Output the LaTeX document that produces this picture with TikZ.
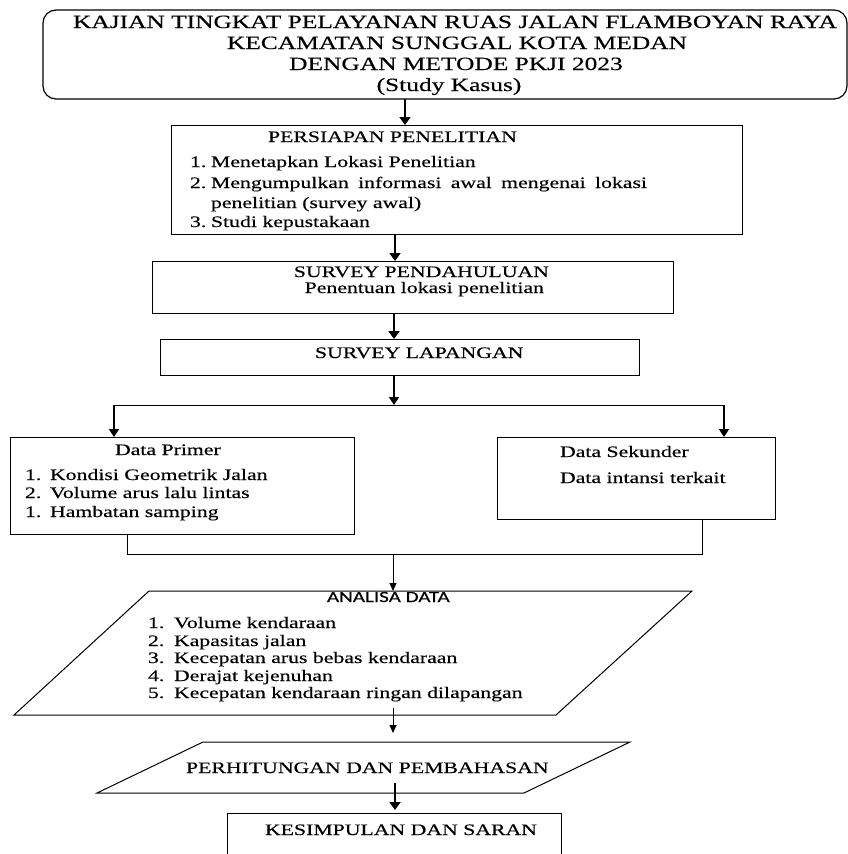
\documentclass[tikz,border=0pt]{standalone}
\usepackage{fontspec}
\setmainfont{Liberation Serif}[FakeStretch=1.36,FakeBold=0.3]
\newfontfamily\sansfnt{Carlito}[FakeStretch=1.36,FakeBold=0.3]
\usetikzlibrary{arrows.meta,calc}
\newcommand\myBody{\fontsize{16}{17}\selectfont}
\newcommand\myTitle{\fontsize{18.7}{21}\selectfont}
\begin{document}
\begin{tikzpicture}[x=1pt,y=-1pt,
  box/.style={draw=black, line width=1pt, inner sep=0pt, outer sep=0pt},
  frame/.style={inner sep=0pt, outer sep=0pt},
  edge/.style={draw=black, line width=1pt},
  lbl/.style={inner sep=0pt, outer sep=0pt, anchor=base west, font=\myBody},
  ttl/.style={inner sep=0pt, outer sep=0pt, anchor=base, font=\myTitle},
  arrT/.style={draw=black, line width=2.5pt, -{Triangle[width=11pt,length=8pt]}},
  arrM/.style={draw=black, line width=1.6pt, -{Triangle[width=10pt,length=8pt]}},
  arrS/.style={draw=black, line width=1pt, -{Triangle[width=7pt,length=8pt]}}]
\clip (0,0) rectangle (848,854);
\fill[white] (0,0) rectangle (848,854);

% boxes
\node[box, rounded corners=13pt, line width=1.2pt, minimum width=804pt, minimum height=89pt, anchor=north west] (title) at (43,10) {};
\node[box, minimum width=571pt, minimum height=109pt, anchor=north west] (persiapan) at (171,125) {};
\node[box, minimum width=521pt, minimum height=52pt, anchor=north west] (pendahuluan) at (152,261) {};
\node[box, minimum width=479pt, minimum height=36pt, anchor=north west] (lapangan) at (160,339) {};
\node[box, minimum width=344pt, minimum height=97pt, anchor=north west] (primer) at (10,437) {};
\node[box, minimum width=278pt, minimum height=82pt, anchor=north west] (sekunder) at (497,437) {};
\node[frame, minimum width=678pt, minimum height=124pt, anchor=north west] (analisa) at (14,591) {};
\draw[edge] ($(analisa.north west)+(135,0)$) -- (analisa.north east) -- ($(analisa.south east)+(-136,0)$) -- (analisa.south west) -- cycle;
\node[frame, minimum width=533pt, minimum height=51pt, anchor=north west] (perhitungan) at (97,742) {};
\draw[edge] ($(perhitungan.north west)+(106,0)$) -- (perhitungan.north east) -- ($(perhitungan.south east)+(-106,0)$) -- (perhitungan.south west) -- cycle;
\node[box, minimum width=334pt, minimum height=70pt, anchor=north west] (kesimpulan) at (227,813) {};

% texts
\node[ttl] (t1) at (455,28) {KAJIAN TINGKAT PELAYANAN RUAS JALAN FLAMBOYAN RAYA};
\node[ttl] (t2) at (457,49) {KECAMATAN SUNGGAL KOTA MEDAN};
\node[ttl] (t3) at (456,70) {DENGAN METODE PKJI 2023};
\node[ttl] (t4) at (449,91) {(Study Kasus)};

\node[lbl] (perH) at (268,142) {PERSIAPAN PENELITIAN};
\node[lbl] (per1) at (190,167) {\makebox[21pt][l]{1.}Menetapkan Lokasi Penelitian};
\node[lbl] (per2) at (190,188) {\makebox[21pt][l]{2.}\makebox[436pt][s]{Mengumpulkan informasi awal mengenai lokasi}};
\node[lbl] (per2b) at (211,208) {penelitian (survey awal)};
\node[lbl] (per3) at (190,227) {\makebox[21pt][l]{3.}Studi kepustakaan};

\node[lbl, anchor=base east] (pdH) at (549,277) {SURVEY PENDAHULUAN};
\node[lbl, anchor=base east] (pd1) at (544,293) {Penentuan lokasi penelitian};

\node[lbl] (lpH) at (315,358) {SURVEY LAPANGAN};

\node[lbl] (prH) at (115,455) {Data Primer};
\node[lbl] (pr1) at (25,480) {\makebox[25pt][l]{1.}Kondisi Geometrik Jalan};
\node[lbl] (pr2) at (25,498) {\makebox[25pt][l]{2.}Volume arus lalu lintas};
\node[lbl] (pr3) at (25,517) {\makebox[25pt][l]{1.}Hambatan samping};

\node[lbl] (skH) at (560,457) {Data Sekunder};
\node[lbl] (sk1) at (560,483) {Data intansi terkait};

\node[lbl, font={\sansfnt\fontsize{15.5}{16}\selectfont}] (anH) at (327,602) {ANALISA DATA};
\node[lbl] (an1) at (148,628) {\makebox[26pt][l]{1.}Volume kendaraan};
\node[lbl] (an2) at (148,646) {\makebox[26pt][l]{2.}Kapasitas jalan};
\node[lbl] (an3) at (148,663) {\makebox[26pt][l]{3.}Kecepatan arus bebas kendaraan};
\node[lbl] (an4) at (148,681) {\makebox[26pt][l]{4.}Derajat kejenuhan};
\node[lbl] (an5) at (148,698) {\makebox[26pt][l]{5.}Kecepatan kendaraan ringan dilapangan};

\node[lbl] (phH) at (186,773) {PERHITUNGAN DAN PEMBAHASAN};
\node[lbl] (ksH) at (265,835) {KESIMPULAN DAN SARAN};

% connectors
\draw[arrT] ([xshift=-40pt]title.south) -- ([xshift=-40pt]title.south |- persiapan.north);
\draw[arrT] ([xshift=-61.5pt]persiapan.south) -- ([xshift=-61.5pt]persiapan.south |- pendahuluan.north);
\draw[arrT] ([xshift=-18.5pt]pendahuluan.south) -- ([xshift=-18.5pt]pendahuluan.south |- lapangan.north);

\coordinate (split) at (394,405);
\coordinate (splitL) at (114,405);
\coordinate (splitR) at (724,405);
\draw[arrM] (lapangan.south -| split) -- (split);
\draw[edge] (splitL) -- (splitR);
\draw[arrM] (splitL) -- (splitL |- primer.north);
\draw[arrM] (splitR) -- (splitR |- sekunder.north);

\coordinate (joinL) at (127,554);
\coordinate (joinR) at (702,554);
\coordinate (join) at (393,554);
\draw[edge] (primer.south -| joinL) -- (joinL) -- (joinR) -- (sekunder.south -| joinR);
\draw[arrS] (join) -- (join |- analisa.north);

\coordinate (a2p) at (393,708);
\draw[arrS, shorten >=9pt] (a2p) -- (a2p |- perhitungan.north);
\coordinate (p2k) at (395,783);
\draw[arrT, shorten >=3pt] (p2k) -- (p2k |- kesimpulan.north);
\end{tikzpicture}
\end{document}
